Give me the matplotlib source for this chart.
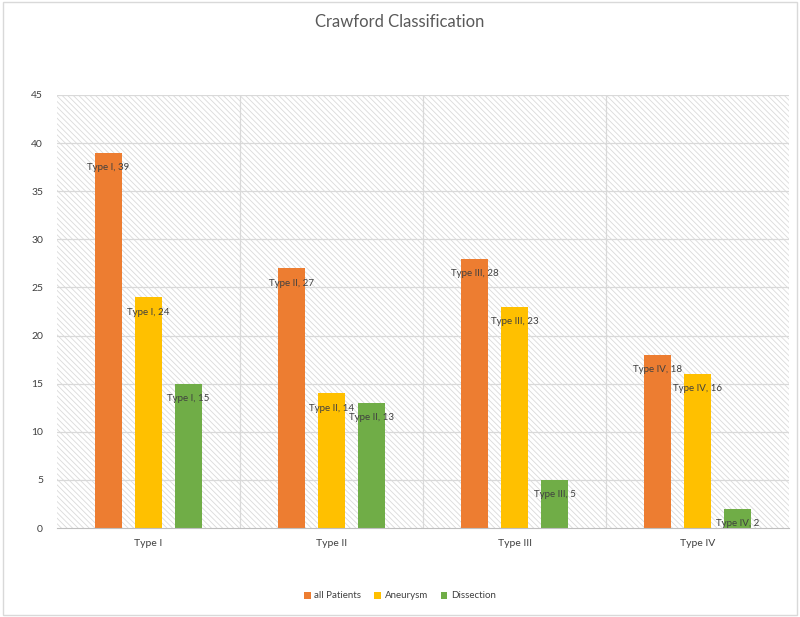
import numpy as np
import matplotlib.pyplot as plt
from matplotlib.patches import Rectangle

categories = ['Type I', 'Type II', 'Type III', 'Type IV']
series_names = ['all Patients', 'Aneurysm', 'Dissection']
all_patients = [39, 27, 28, 18]
aneurysm = [24, 14, 23, 16]
dissection = [15, 13, 5, 2]
colors = ['#ed7d31', '#ffc000', '#70ad47']

plt.rcParams['font.family'] = ['Lato', 'DejaVu Sans']
plt.rcParams['hatch.color'] = '#dadada'
plt.rcParams['hatch.linewidth'] = 0.6

fig = plt.figure(figsize=(8, 6.17), dpi=100)
ax = fig.add_axes([57 / 800, 1 - 528 / 617, 732 / 800, 433 / 617])

# hatched plot background
ax.add_patch(Rectangle((0, 0), 1, 1, transform=ax.transAxes, facecolor='white',
                       edgecolor='#dadada', hatch='\\\\\\\\\\\\', linewidth=0, zorder=0))

x = np.arange(len(categories))
width = 0.147
offset = 0.219
data = [all_patients, aneurysm, dissection]
for i, (vals, name, c) in enumerate(zip(data, series_names, colors)):
    pos = x + (i - 1) * offset
    ax.bar(pos, vals, width, color=c, label=name, zorder=3)
    for xp, v, cat in zip(pos, vals, categories):
        ax.annotate(f'{cat}, {v}', (xp, v), xytext=(0, -14), textcoords='offset points',
                    ha='center', va='bottom', fontsize=7, color='#404040', zorder=4)

ax.set_xlim(-0.5, len(categories) - 0.5)
ax.set_ylim(0, 45)
ax.set_yticks(range(0, 46, 5))
ax.set_xticks(x)
ax.set_xticklabels(categories)
ax.tick_params(length=0, labelsize=7.5, labelcolor='#404040')
ax.tick_params(axis='x', pad=8)
ax.tick_params(axis='y', pad=10)

for y in range(5, 46, 5):
    ax.axhline(y, color='#d9d9d9', linewidth=0.9, zorder=1)
for b in np.arange(0.5, len(categories) - 0.5, 1):
    ax.axvline(b, color='#d9d9d9', linewidth=0.9, zorder=1)
for s in ['top', 'right', 'left']:
    ax.spines[s].set_visible(False)
ax.spines['bottom'].set_color('#bfbfbf')
ax.spines['bottom'].set_zorder(5)

fig.suptitle('Crawford Classification', y=1 - 22 / 617, va='center',
             fontsize=12, color='#595959')

fig.legend(loc='center', bbox_to_anchor=(400 / 800, 1 - 596 / 617), ncol=3,
           frameon=False, fontsize=7, handlelength=0.7, handleheight=0.7,
           handletextpad=0.4, columnspacing=1.3, labelcolor='#404040')

# outer frame
fig.add_artist(Rectangle((0.004, 0.004), 0.992, 0.992, transform=fig.transFigure,
                         fill=False, edgecolor='#d9d9d9', linewidth=1))

fig.savefig('out.png', dpi=100)
